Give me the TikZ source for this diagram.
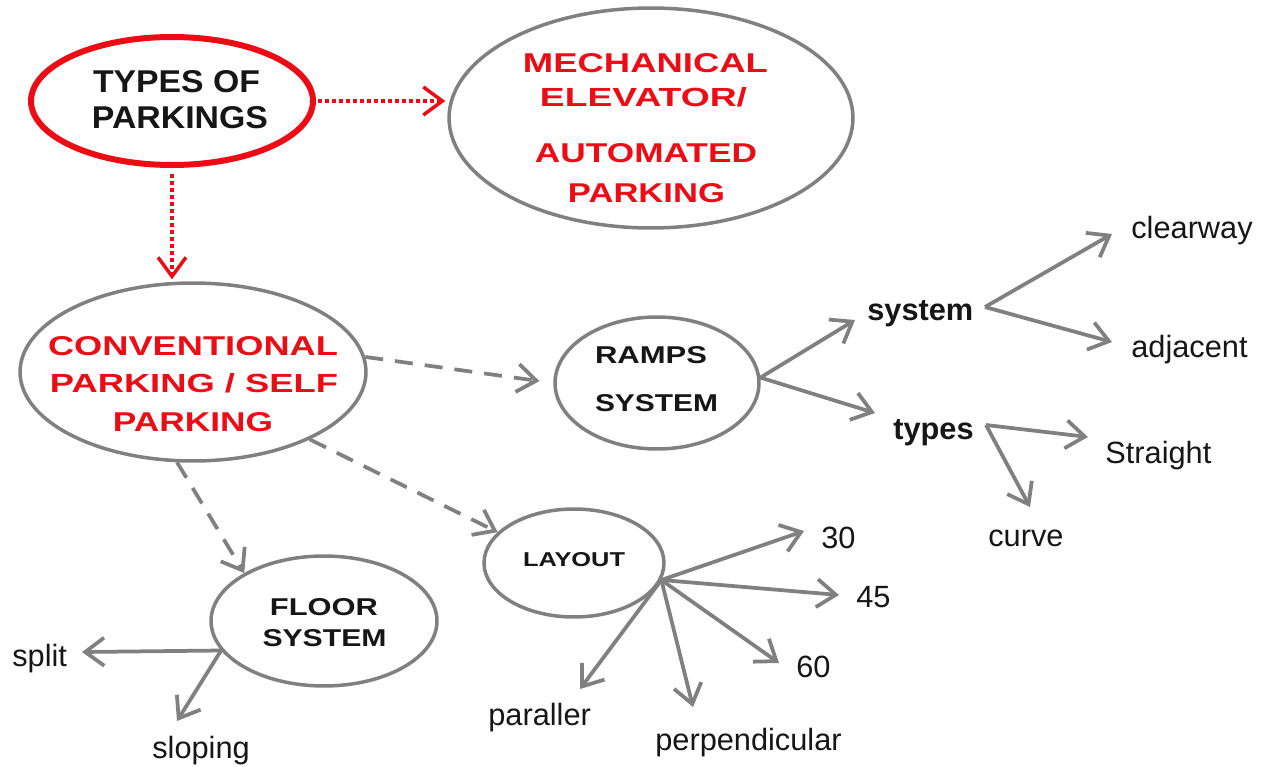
\documentclass[tikz,border=0pt]{standalone}
\usepackage{fontspec}
\setmainfont{Liberation Sans}
\usetikzlibrary{shapes.geometric,arrows.meta}
\newdimen\px \px=0.02cm
\definecolor{gr}{RGB}{128,128,128}
\definecolor{rd}{RGB}{235,12,22}
\definecolor{tx}{RGB}{22,22,22}
\newcommand{\cp}[3]{\resizebox{#1\px}{#2\px}{\bfseries #3}}
\tikzset{
  ell/.style={ellipse, draw=gr, line width=0.07cm, inner sep=0pt},
  capt/.style={inner sep=0pt, anchor=center},
  lab/.style={font=\fontsize{17.5}{21}\selectfont, text=tx, inner sep=0pt, anchor=base west},
  blab/.style={lab, font=\bfseries\fontsize{17.5}{21}\selectfont},
  arr/.style={draw=gr, line width=0.075cm, -{Straight Barb[length=0.38cm, width=0.56cm]}},
  dsh/.style={arr, dash pattern=on 0.36cm off 0.24cm},
  rdot/.style={draw=rd, line width=0.09cm, dash pattern=on 0.08cm off 0.06cm,
    -{Straight Barb[length=0.38cm, width=0.56cm, line width=0.07cm]}, shorten >=0.04cm},
}
\begin{document}
\begin{tikzpicture}[x=0.02cm, y=-0.02cm]
\useasboundingbox (0,0) rectangle (1265,767);

% ellipses
\node[ell, draw=rd, line width=0.12cm, minimum width=5.64cm, minimum height=2.56cm] (types) at (172,101) {};
\node[ell, minimum width=8.08cm, minimum height=4.4cm] (mech) at (651,118) {};
\node[ell, minimum width=6.92cm, minimum height=3.56cm] (conv) at (193,372) {};
\node[ell, minimum width=4.08cm, minimum height=2.64cm] (ramps) at (657,383) {};
\node[ell, minimum width=3.6cm, minimum height=2.16cm] (layout) at (574,563) {};
\node[ell, minimum width=4.52cm, minimum height=2.6cm] (floor) at (324,621) {};

% ellipse texts
\node[capt, text=tx] (types1) at (176.5,82) {\cp{167}{22}{TYPES OF}};
\node[capt, text=tx] (types2) at (180,118) {\cp{176}{22}{PARKINGS}};

\node[capt, text=rd] (mech1) at (645.5,63) {\cp{245}{19}{MECHANICAL}};
\node[capt, text=rd] (mech2) at (643.5,97) {\cp{207}{19}{ELEVATOR/}};
\node[capt, text=rd] (mech3) at (646,153) {\cp{222}{19}{AUTOMATED}};
\node[capt, text=rd] (mech4) at (646.5,193) {\cp{157}{19}{PARKING}};

\node[capt, text=rd] (conv1) at (193,346) {\cp{290}{19}{CONVENTIONAL}};
\node[capt, text=rd] (conv2) at (194,383) {\cp{288}{19}{PARKING / SELF}};
\node[capt, text=rd] (conv3) at (193,422) {\cp{160}{19}{PARKING}};

\node[capt, text=tx] (ramps1) at (651,355) {\cp{112}{17}{RAMPS}};
\node[capt, text=tx] (ramps2) at (656.5,403) {\cp{123}{17}{SYSTEM}};

\node[capt, text=tx] (layout1) at (574,560) {\cp{102}{14}{LAYOUT}};

\node[capt, text=tx] (floor1) at (324,607) {\cp{108}{17}{FLOOR}};
\node[capt, text=tx] (floor2) at (324.5,638) {\cp{124}{17}{SYSTEM}};

% labels
\node[blab] (system) at (867,320) {system};
\node[blab] (typesl) at (893,439) {types};
\node[lab] (clearway) at (1131,238) {clearway};
\node[lab] (adjacent) at (1131,357) {adjacent};
\node[lab] (straight) at (1105,463) {Straight};
\node[lab] (curve) at (988,546) {curve};
\node[lab] (l30) at (821,548) {30};
\node[lab] (l45) at (856,607) {45};
\node[lab] (l60) at (796,677) {60};
\node[lab] (paraller) at (488,725) {paraller};
\node[lab] (perp) at (655,750) {perpendicular};
\node[lab] (split) at (12,666) {split};
\node[lab] (sloping) at (152,758) {sloping};

% connector points
\coordinate (sysp) at (985,307);
\coordinate (typp) at (986,425);
\coordinate (t-sys) at (855,320);
\coordinate (t-typ) at (875,413);
\coordinate (t-clr) at (1112,234);
\coordinate (t-adj) at (1112,342);
\coordinate (t-str) at (1088,437);
\coordinate (t-crv) at (1030,507);
\coordinate (t-30) at (804,531);
\coordinate (t-45) at (839,595);
\coordinate (t-60) at (779,663);
\coordinate (t-perp) at (693,707);
\coordinate (t-par) at (580,689);
\coordinate (t-split) at (82,652);
\coordinate (t-slop) at (177,721);

% red dotted
\draw[rdot, shorten <=0.04cm] (types.east) -- (types.east -| mech.west);
\draw[rdot, shorten <=0.12cm] (types.south) -- (types.south |- conv.north);

% dashed grey
\draw[dsh, shorten >=0.28cm] (conv.5) -- (ramps.west);
\draw[dsh] (conv.-30) -- (layout.158);
\draw[dsh] (conv.260) -- (floor.149);

% solid grey
\draw[arr] (ramps.3) -- (t-sys);
\draw[arr] (ramps.3) -- (t-typ);
\draw[arr] (sysp) -- (t-clr);
\draw[arr] (sysp) -- (t-adj);
\draw[arr] (typp) -- (t-str);
\draw[arr] (typp) -- (t-crv);
\draw[arr] (layout.-11) -- (t-30);
\draw[arr] (layout.-11) -- (t-45);
\draw[arr] (layout.-11) -- (t-60);
\draw[arr] (layout.-11) -- (t-perp);
\draw[arr] (layout.-11) -- (t-par);
\draw[arr] (floor.196) -- (t-split);
\draw[arr] (floor.196) -- (t-slop);
\end{tikzpicture}
\end{document}
